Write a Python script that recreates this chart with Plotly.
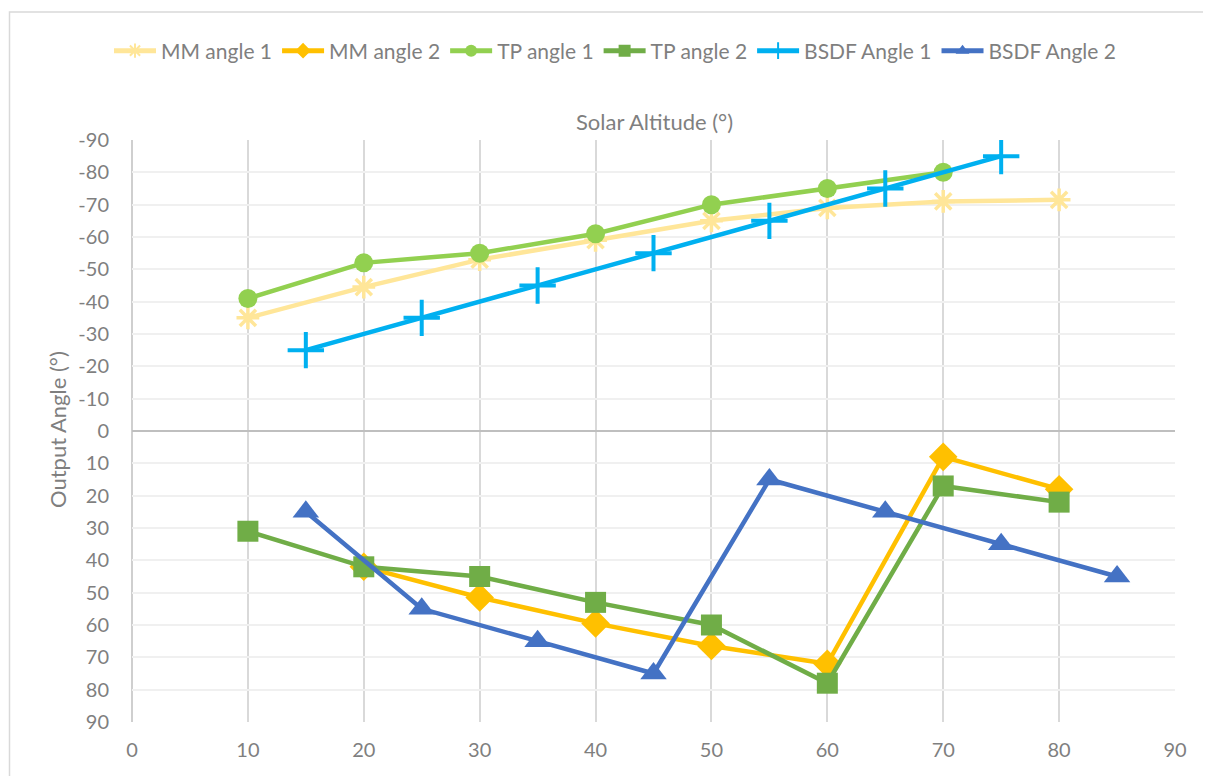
import plotly.graph_objects as go

# Data
mm1_x = [10, 20, 30, 40, 50, 60, 70, 80]
mm1_y = [-35, -44.5, -53, -59, -65, -69, -71, -71.5]

mm2_x = [20, 30, 40, 50, 60, 70, 80]
mm2_y = [42, 51.5, 59.5, 66.5, 72, 8, 18]

tp1_x = [10, 20, 30, 40, 50, 60, 70]
tp1_y = [-41, -52, -55, -61, -70, -75, -80]

tp2_x = [10, 20, 30, 40, 50, 60, 70, 80]
tp2_y = [31, 42, 45, 53, 60, 78, 17, 22]

bsdf1_x = [15, 25, 35, 45, 55, 65, 75]
bsdf1_y = [-25, -35, -45, -55, -65, -75, -85]

bsdf2_x = [15, 25, 35, 45, 55, 65, 75, 85]
bsdf2_y = [25, 55, 65, 75, 15, 25, 35, 45]

y_ticks = [-90, -80, -70, -60, -50, -40, -30, -20, -10, 0, 10, 20, 30, 40, 50, 60, 70, 80, 90]
x_ticks = [0, 10, 20, 30, 40, 50, 60, 70, 80, 90]

FONT = "Lato"
TXT = "#7f7f7f"

# page body has an 8px margin, compensate
OFF = 8
W, H = 1211, 776
PL, PR, PT, PB = 132, 1175, 140, 722  # target plot area in screenshot pixels
L = PL - OFF
T = PT - OFF
R = W + OFF - PR
B = H + OFF - PB
PW = PR - PL
PH = PB - PT

series = [
    ("MM angle 1", mm1_x, mm1_y, "#FFE699", dict(symbol="asterisk-open", size=19, line=dict(width=3.5, color="#FFD966"))),
    ("MM angle 2", mm2_x, mm2_y, "#FFC000", dict(symbol="diamond", size=22, color="#FFC000")),
    ("TP angle 1", tp1_x, tp1_y, "#92D050", dict(symbol="circle", size=19, color="#92D050")),
    ("TP angle 2", tp2_x, tp2_y, "#70AD47", dict(symbol="square", size=21, color="#70AD47")),
    ("BSDF Angle 1", bsdf1_x, bsdf1_y, "#00B0F0", dict(symbol="cross-thin-open", size=26, line=dict(width=4, color="#00B0F0"))),
    ("BSDF Angle 2", bsdf2_x, bsdf2_y, "#4472C4", dict(symbol="triangle-up", size=23, color="#4472C4")),
]

fig = go.Figure()
for name, xs, ys, col, mk in series:
    fig.add_trace(go.Scatter(
        x=xs, y=ys, name=name, mode="lines+markers",
        line=dict(color=col, width=4.5),
        marker=mk,
    ))

fig.update_layout(
    width=W, height=H,
    margin=dict(l=L, r=R, t=T, b=B),
    plot_bgcolor="white", paper_bgcolor="white",
    font=dict(family=FONT, color=TXT, size=20),
    showlegend=True,
    legend=dict(
        orientation="h", xref="container", yref="container",
        x=(615 - OFF) / W, xanchor="center", y=1 - (51 - OFF) / H, yanchor="middle",
        font=dict(size=21, color=TXT, family=FONT),
        itemwidth=42, tracegroupgap=0, itemsizing="constant",
    ),
    xaxis=dict(
        range=[0, 90], tickvals=x_ticks, ticktext=[str(v) for v in x_ticks],
        showgrid=True, gridcolor="#D9D9D9", gridwidth=1.5,
        zeroline=False, showline=False, ticks="",
        ticklabelstandoff=14,
        tickfont=dict(size=20, color=TXT, family=FONT),
    ),
    yaxis=dict(
        range=[90, -90], tickvals=y_ticks, ticktext=[str(v) for v in y_ticks],
        showgrid=True, gridcolor="#F0F0F0", gridwidth=1.5,
        zeroline=True, zerolinecolor="#BFBFBF", zerolinewidth=1.5,
        showline=False, ticks="",
        ticklabelstandoff=22,
        tickfont=dict(size=20, color=TXT, family=FONT),
    ),
    annotations=[
        dict(text="Solar Altitude (°)", xref="paper", yref="paper", x=(654 - PL) / PW, y=1,
             yanchor="bottom", yshift=3, showarrow=False,
             font=dict(size=22, color=TXT, family=FONT)),
        dict(text="Output Angle (°)", xref="paper", yref="paper",
             x=(57 - PL) / PW, y=(PB - 430) / PH, xanchor="center", yanchor="middle",
             textangle=-90, showarrow=False,
             font=dict(size=22, color=TXT, family=FONT)),
    ],
    shapes=[
        dict(type="line", xref="paper", yref="paper", x0=0, x1=0, y0=0, y1=1,
             line=dict(color="#BFBFBF", width=1.5), layer="below"),
        dict(type="rect", xref="paper", yref="paper",
             x0=(9.5 - PL) / PW, x1=1.2, y0=-0.3, y1=(PB - 12) / PH,
             line=dict(color="#D9D9D9", width=1.5), fillcolor="rgba(0,0,0,0)", layer="below"),
    ],
)

fig.write_html("out.html")
